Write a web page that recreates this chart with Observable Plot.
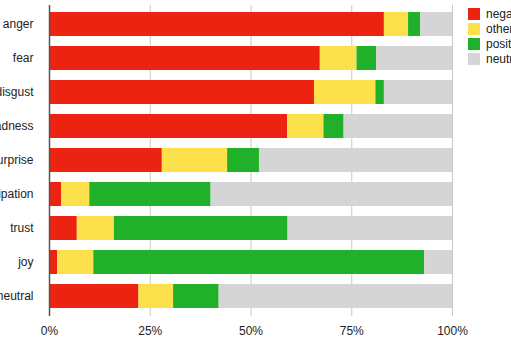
<!DOCTYPE html>
<html>
<head>
<meta charset="utf-8">
<script src="https://cdn.jsdelivr.net/npm/d3@7"></script>
<script src="https://cdn.jsdelivr.net/npm/@observablehq/plot@0.6"></script>
<style>
  html, body { margin: 0; padding: 0; background: #fff; overflow: hidden; width: 511px; height: 351px; }
  #wrap { position: relative; width: 511px; height: 351px; }
  #legend { position: absolute; left: 468px; top: 7px; white-space: nowrap; }
</style>
</head>
<body>
<div id="wrap"><div id="chart"></div><div id="legend"></div></div>
<script>
const categories = ["anger", "fear", "disgust", "sadness", "surprise", "anticipation", "trust", "joy", "neutral"];
const sentiments = ["negative", "other", "positive", "neutral"];
const colors = ["#ec2310", "#fce04c", "#20b02a", "#d5d5d5"];
const negative = [83.1, 67.2, 65.8, 59.1, 28.0, 3.0, 6.9, 2.0, 22.2];
const other    = [6.0, 9.1, 15.2, 9.0, 16.2, 7.0, 9.2, 9.0, 8.6];
const positive = [3.0, 4.9, 2.1, 5.0, 7.9, 30.1, 43.1, 82.1, 11.3];
const neutral  = [7.9, 18.8, 16.9, 26.9, 47.9, 59.9, 40.8, 6.9, 57.9];
const xTicks = [0, 25, 50, 75, 100];

const series = {negative, other, positive, neutral};
const data = [];
categories.forEach((c, i) => {
  sentiments.forEach(s => data.push({emotion: c, sentiment: s, value: series[s][i]}));
});

const font = "Liberation Sans, Arial, Helvetica, sans-serif";

const chart = Plot.plot({
  width: 511,
  height: 351,
  marginLeft: 49,
  marginRight: 59,
  marginTop: 5,
  marginBottom: 35,
  style: {fontFamily: font, fontSize: "12px", color: "#222", background: "#fff"},
  x: {domain: [0, 100], ticks: xTicks, tickFormat: d => d + "%", tickSize: 0, tickPadding: 10, label: null},
  y: {domain: categories, paddingInner: 0.29, paddingOuter: 0.2, tickSize: 0, tickPadding: 16, label: null},
  color: {domain: sentiments, range: colors},
  marks: [
    Plot.ruleX(xTicks.slice(1), {stroke: "#c8c8c8", strokeWidth: 1}),
    Plot.barX(data, Plot.stackX({x: "value", y: "emotion", fill: "sentiment", order: sentiments})),
    Plot.ruleX([0], {stroke: "#555", strokeWidth: 1.5})
  ]
});
document.getElementById("chart").appendChild(chart);

const legend = Plot.legend({
  color: {domain: sentiments, range: colors},
  legend: "swatches",
  columns: 1,
  swatchSize: 12,
  style: {fontFamily: font, fontSize: "12px", color: "#222"}
});
document.getElementById("legend").appendChild(legend);
</script>
</body>
</html>
